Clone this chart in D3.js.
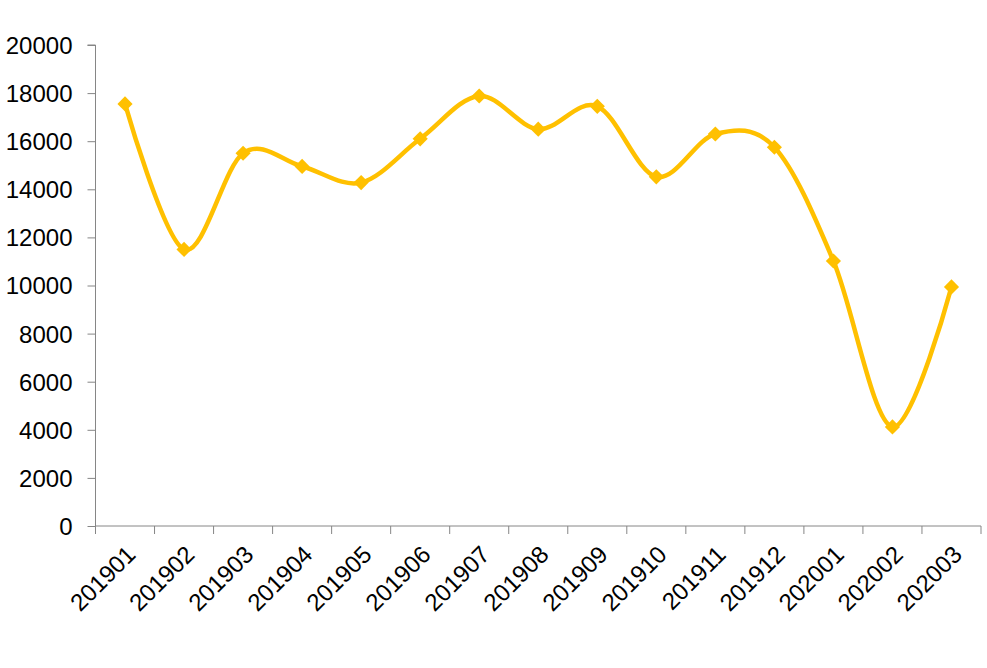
<!DOCTYPE html>
<html><head><meta charset="utf-8">
<script src="https://cdn.jsdelivr.net/npm/d3@7"></script>
<style>body{margin:0;background:#fff}svg text{font-family:"Liberation Sans",Arial,sans-serif}</style>
</head><body>
<svg id="c" width="987" height="668"></svg>
<script>
const categories = ["201901","201902","201903","201904","201905","201906","201907","201908","201909","201910","201911","201912","202001","202002","202003"];
const values = [17550,11500,15500,14950,14280,16100,17880,16500,17450,14520,16300,15750,11020,4120,9940];
const yTicks = [0,2000,4000,6000,8000,10000,12000,14000,16000,18000,20000];

(function(){
const svg = d3.select("#c");
const mLeft = 95.5, mRight = 981, mTop = 45, mBottom = 526;
const x = d3.scaleBand().domain(categories).range([mLeft, mRight]);
const y = d3.scaleLinear().domain([0, 20000]).range([mBottom, mTop]);
const axisColor = "#868686";

const ya = svg.append("g").attr("transform", `translate(${mLeft},0)`)
  .call(d3.axisLeft(y).tickValues(yTicks).tickSize(8).tickPadding(15).tickFormat(d3.format("d")));
ya.select(".domain").attr("stroke", axisColor).attr("d", `M-8,${mTop}H0V${mBottom}`);
ya.selectAll(".tick line").attr("stroke", axisColor);
ya.selectAll(".tick text").attr("fill", "#000").style("font-size", "24px").attr("dy", "0.35em");

const xa = svg.append("g").attr("transform", `translate(0,${mBottom})`);
xa.append("line").attr("x1", mLeft).attr("x2", mRight).attr("stroke", axisColor);
const edges = categories.map(c => x(c)).concat([mRight]);
xa.selectAll("line.t").data(edges).join("line").attr("class","t")
  .attr("x1", d => d).attr("x2", d => d).attr("y1", 0).attr("y2", 8).attr("stroke", axisColor);
xa.selectAll("text").data(categories).join("text")
  .attr("transform", d => `translate(${x(d) + x.bandwidth()/2 + 6},${24}) rotate(-45)`)
  .attr("text-anchor", "end").attr("dy", "0.35em")
  .style("font-size", "24px").attr("fill", "#000").text(d => d);

const line = d3.line().x((d,i) => x(categories[i]) + x.bandwidth()/2).y(d => y(d))
  .curve(d3.curveCardinal.tension(0));
svg.append("path").datum(values).attr("d", line).attr("fill", "none")
  .attr("stroke", "#FFC000").attr("stroke-width", 4.5);
svg.selectAll("path.m").data(values).join("path").attr("class","m")
  .attr("d", d3.symbol(d3.symbolSquare, 115)())
  .attr("transform", (d,i) => `translate(${x(categories[i]) + x.bandwidth()/2},${y(d)}) rotate(45)`)
  .attr("fill", "#FFC000");
})();
</script>
</body></html>
